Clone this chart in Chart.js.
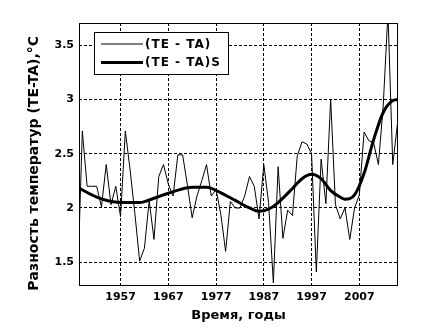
<!DOCTYPE html>
<html>
<head>
<meta charset="utf-8">
<script src="https://cdn.jsdelivr.net/npm/chart.js@4.4.0/dist/chart.umd.min.js"></script>
<style>
html,body{margin:0;padding:0;background:#fff;}
#wrap{width:444px;height:335px;position:relative;}
</style>
</head>
<body>
<div id="wrap"><canvas id="c"></canvas></div>
<script>
// ---- data ----
const years = [1948,1949,1950,1951,1952,1953,1954,1955,1956,1957,
  1958,1959,1960,1961,1962,1963,1964,1965,1966,1967,
  1968,1969,1970,1971,1972,1973,1974,1975,1976,1977,
  1978,1979,1980,1981,1982,1983,1984,1985,1986,1987,
  1988,1989,1990,1991,1992,1993,1994,1995,1996,1997,
  1998,1999,2000,2001,2002,2003,2004,2005,2006,2007,
  2008,2009,2010,2011,2012,2013,2014,2015];
const diffTA = [1.30,2.71,2.20,2.20,2.20,2.01,2.40,2.03,2.20,1.92,
  2.71,2.35,1.95,1.51,1.63,2.07,1.71,2.29,2.40,2.22,
  2.11,2.49,2.49,2.21,1.91,2.11,2.25,2.40,2.11,2.17,
  1.94,1.60,2.06,2.00,2.00,2.11,2.29,2.20,1.90,2.40,
  2.05,1.31,2.38,1.72,1.98,1.93,2.48,2.61,2.59,2.50,
  1.41,2.45,2.04,3.00,2.03,1.90,2.00,1.71,2.00,2.12,
  2.70,2.62,2.60,2.40,2.94,3.80,2.40,2.78];
const smoothYears = [1948,1952,1955,1958,1961,1964,1968,1972,1975,1978,
  1981,1984,1986,1988,1990,1993,1995,1997,1999,2001,
  2003,2004,2006,2008,2010,2012,2014,2015];
const diffTAS = [2.19,2.10,2.06,2.05,2.05,2.09,2.15,2.19,2.19,2.14,
  2.07,2.00,1.97,1.99,2.05,2.18,2.27,2.31,2.27,2.16,
  2.10,2.08,2.12,2.32,2.63,2.88,2.99,3.00];
const xTicks = [1957,1967,1977,1987,1997,2007];
const yTicks = [1.5,2,2.5,3,3.5];
const seriesLabels = ['(TE - TA)','(TE - TA)S'];
const xTitle = 'Время, годы';
const yTitle = 'Разность температур (TE-TA),°C';

const FONT = 'DejaVu Sans';

const frame = {
  id:'frame',
  afterDraw(chart){
    const {ctx, chartArea:a} = chart;
    ctx.save();
    ctx.strokeStyle='#000'; ctx.lineWidth=1;
    ctx.strokeRect(Math.round(a.left)+0.5, Math.round(a.top)+0.5,
      Math.round(a.right-a.left)-1, Math.round(a.bottom-a.top));
    // legend
    const lx=94.5, ly=32.5, lw=134, lh=42;
    ctx.fillStyle='#fff'; ctx.fillRect(lx,ly,lw,lh);
    ctx.strokeRect(lx,ly,lw,lh);
    const ds = chart.data.datasets;
    const rows=[44,62.5];
    ds.forEach((d,i)=>{
      ctx.beginPath();
      ctx.lineWidth=d.borderWidth;
      ctx.strokeStyle='#000';
      ctx.moveTo(101,rows[i]); ctx.lineTo(143,rows[i]); ctx.stroke();
      ctx.fillStyle='#000';
      ctx.font='bold 12px "'+FONT+'"';
      try{ctx.letterSpacing='1px';}catch(e){}
      ctx.textBaseline='middle';
      ctx.fillText(d.label,145,rows[i]+0.5);
      try{ctx.letterSpacing='0px';}catch(e){}
    });
    // y axis title
    ctx.font='bold 14px "'+FONT+'"';
    const w = ctx.measureText(yTitle).width;
    ctx.translate(34, 36 + w/2);
    ctx.rotate(-Math.PI/2);
    ctx.textAlign='center'; ctx.textBaseline='middle';
    ctx.fillStyle='#000';
    ctx.fillText(yTitle,0,0);
    ctx.restore();
  }
};

new Chart(document.getElementById('c'),{
  type:'line',
  data:{
    datasets:[
      {label:seriesLabels[0], data:years.map((y,i)=>({x:y,y:diffTA[i]})),
       borderColor:'#000', borderWidth:1, pointRadius:0, tension:0, fill:false},
      {label:seriesLabels[1], data:smoothYears.map((y,i)=>({x:y,y:diffTAS[i]})),
       borderColor:'#000', borderWidth:3, pointRadius:0, cubicInterpolationMode:'monotone', fill:false}
    ]
  },
  options:{
    responsive:true, maintainAspectRatio:false, animation:false,
    layout:{padding:{left:0,top:23,right:46,bottom:0}},
    plugins:{legend:{display:false}, tooltip:{enabled:false}},
    scales:{
      x:{type:'linear', min:1948.3, max:2015.1,
        afterBuildTicks(s){s.ticks=xTicks.map(v=>({value:v}));},
        afterFit(s){s.height=50;},
        ticks:{color:'#000', font:{family:FONT,size:11,weight:'bold'}, padding:6, maxRotation:0,
          callback:v=>String(v)},
        grid:{color:'#000', lineWidth:1, drawTicks:false},
        border:{display:false, dash:[3,2]},
        title:{display:true, text:xTitle, color:'#000', font:{family:FONT,size:13,weight:'bold'}, padding:{top:3,bottom:12}}
      },
      y:{type:'linear', min:1.29, max:3.705,
        afterBuildTicks(s){s.ticks=yTicks.map(v=>({value:v}));},
        afterFit(s){s.width=79;},
        ticks:{color:'#000', font:{family:FONT,size:11,weight:'bold'}, padding:5,
          callback:v=>String(v)},
        grid:{color:'#000', lineWidth:1, drawTicks:false},
        border:{display:false, dash:[3,2]},
        title:{display:false}
      }
    }
  },
  plugins:[frame]
});
</script>
</body>
</html>
